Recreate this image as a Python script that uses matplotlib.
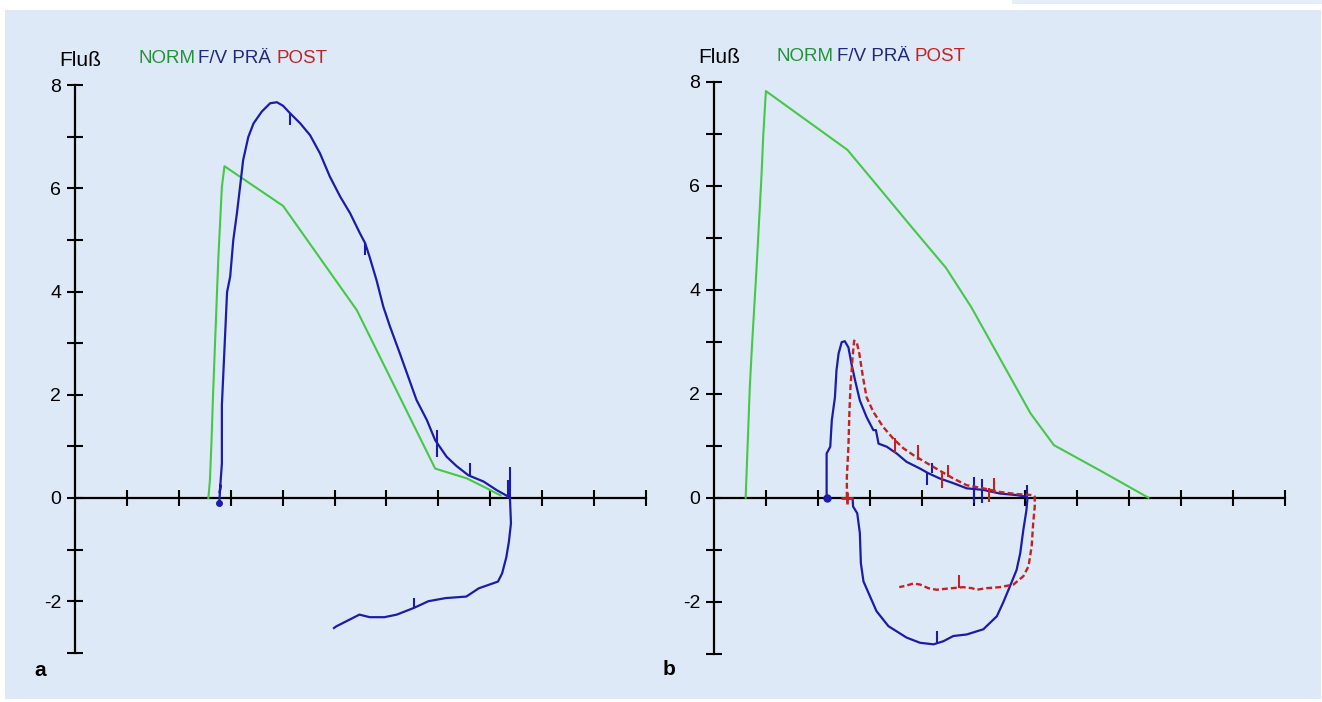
import matplotlib
matplotlib.use("Agg")
import matplotlib.pyplot as plt
from matplotlib.patches import Rectangle

# ---------------- data ----------------
# Panel a
norm_a_x = [2.57, 2.60, 2.63, 2.66, 2.76, 2.83, 2.88, 4.01, 5.43, 6.94, 7.55, 7.93, 8.20]
norm_a_y = [0.00, 0.35, 1.10, 2.00, 4.61, 6.03, 6.43, 5.66, 3.64, 0.57, 0.38, 0.19, 0.05]

pre_a_x = [2.78, 2.80, 2.79, 2.83, 2.83, 2.93, 2.99, 3.05, 3.12, 3.18, 3.24, 3.34, 3.44, 3.60,
           3.76, 3.89, 4.01, 4.14, 4.34, 4.53, 4.72, 4.91, 5.11, 5.30, 5.49, 5.59, 5.68, 5.81,
           5.94, 6.07, 6.26, 6.42, 6.58, 6.78, 6.94, 7.16, 7.35, 7.58, 7.87, 8.13, 8.29, 8.38,
           8.40, 8.36, 8.31, 8.23, 8.15, 7.78, 7.54, 7.14, 6.81, 6.53, 6.20, 5.96, 5.68,
           5.48, 5.03, 4.99]
pre_a_y = [-0.10, 0.25, 0.10, 0.67, 1.80, 3.99, 4.29, 5.00, 5.52, 6.03, 6.55, 7.00, 7.26, 7.49,
           7.65, 7.67, 7.60, 7.46, 7.26, 7.03, 6.68, 6.23, 5.84, 5.52, 5.13, 4.94, 4.66, 4.22,
           3.71, 3.32, 2.80, 2.35, 1.90, 1.51, 1.12, 0.80, 0.62, 0.44, 0.32, 0.15, 0.06, 0.01,
           -0.49, -0.85, -1.15, -1.46, -1.62, -1.75, -1.91, -1.94, -2.00, -2.13, -2.26, -2.31, -2.31,
           -2.26, -2.49, -2.52]
pre_a_mark_x = [4.14, 5.59, 6.97, 7.62, 8.34, 8.38, 6.53]
pre_a_mark_y0 = [7.46, 4.94, 0.80, 0.44, 0.00, 0.00, -2.13]
pre_a_mark_y1 = [7.23, 4.71, 1.32, 0.67, 0.35, 0.60, -1.93]

# Panel b
norm_b_x = [0.61, 0.69, 0.73, 0.82, 0.91, 0.95, 1.00, 2.57, 3.18, 3.82, 4.47, 4.96, 5.53,
            6.10, 6.55, 7.48, 8.37]
norm_b_y = [0.00, 2.13, 2.89, 4.42, 6.09, 6.98, 7.82, 6.69, 5.96, 5.19, 4.42, 3.66, 2.64,
            1.62, 1.01, 0.50, 0.00]

pre_b_x = [2.17, 2.17, 2.24, 2.27, 2.33, 2.36, 2.40, 2.46, 2.52, 2.59, 2.65, 2.72, 2.81, 2.94,
           3.07, 3.12, 3.17, 3.33, 3.52, 3.71, 3.97, 4.13, 4.35, 4.61, 4.87, 5.19, 5.51, 5.83,
           6.01, 6.04, 6.02, 5.96, 5.90, 5.83, 5.70, 5.57, 5.45, 5.19, 4.87, 4.61, 4.42, 4.23,
           3.97, 3.71, 3.36, 3.13, 2.88, 2.83, 2.81, 2.76, 2.68, 2.67]
pre_b_y = [0.00, 0.85, 0.98, 1.49, 1.93, 2.45, 2.77, 2.99, 3.01, 2.89, 2.57, 2.25, 1.87, 1.55,
           1.30, 1.30, 1.04, 0.98, 0.85, 0.69, 0.56, 0.47, 0.37, 0.28, 0.18, 0.15, 0.08, 0.05,
           0.02, -0.01, -0.24, -0.62, -1.07, -1.39, -1.71, -2.02, -2.28, -2.53, -2.63, -2.66, -2.76, -2.82,
           -2.79, -2.69, -2.47, -2.18, -1.61, -1.26, -0.68, -0.30, -0.17, -0.01]
pre_b_mark_x = [4.11, 4.21, 5.00, 5.16, 6.03, 4.30]
pre_b_mark_y0 = [0.24, 0.47, -0.10, -0.10, 0.00, -2.79]
pre_b_mark_y1 = [0.47, 0.66, 0.40, 0.35, 0.24, -2.57]

post_b_x = [2.56, 2.56, 2.59, 2.61, 2.63, 2.67, 2.70, 2.75, 2.80, 2.87, 2.94, 3.07, 3.26, 3.45,
            3.65, 3.84, 4.23, 4.61, 4.87, 5.19, 5.51, 5.83, 6.15, 6.18, 6.18, 6.15, 6.12, 6.06,
            5.96, 5.77, 5.51, 5.25, 5.06, 4.97, 4.80, 4.48, 4.29, 4.13, 3.97, 3.84, 3.71, 3.57]
post_b_y = [0.00, 0.40, 0.98, 1.68, 2.13, 2.70, 3.02, 2.99, 2.77, 2.32, 1.93, 1.65, 1.36, 1.14,
            0.95, 0.82, 0.59, 0.37, 0.24, 0.18, 0.11, 0.07, 0.05, 0.02, -0.17, -0.49, -0.94, -1.32,
            -1.51, -1.67, -1.72, -1.74, -1.77, -1.74, -1.72, -1.75, -1.77, -1.74, -1.67, -1.65, -1.69, -1.72]
post_b_mark_x = [3.49, 3.94, 4.39, 4.51, 5.29, 5.40, 4.72]
post_b_mark_y0 = [0.85, 0.72, 0.19, 0.40, -0.08, 0.09, -1.74]
post_b_mark_y1 = [1.14, 1.01, 0.47, 0.62, 0.19, 0.38, -1.48]

y_ticks = list(range(-3, 9))
y_tick_labels = [str(v) if v % 2 == 0 else "" for v in y_ticks]
x_ticks = list(range(1, 12))

legend_words = ["NORM", "F/V PRÄ", "POST"]

# ---------------- style ----------------
W, H = 1322, 702
BG = "#dde9f6"
GREEN = "#45c845"
GREEN_TXT = "#23923a"
BLUE = "#1c1caa"
BLUE_TXT = "#1e2a78"
RED = "#c42222"
FONT = "Liberation Sans"

fig = plt.figure(figsize=(W / 100, H / 100), dpi=100)
fig.patch.set_facecolor("white")
fig.patches.append(Rectangle((5 / W, 1 - 699 / H), 1316 / W, 689 / H,
                             transform=fig.transFigure, facecolor=BG, edgecolor="none", zorder=-10))
fig.patches.append(Rectangle((1012 / W, 1 - 4 / H), 310 / W, 4 / H,
                             transform=fig.transFigure, facecolor="#e6eefa", edgecolor="none", zorder=-10))

XL = (-1.3, 11.6)
YL = (-3.8, 8.6)


def make_axes(ox, oy, ux, uy):
    left = (ox + XL[0] * ux) / W
    width = (XL[1] - XL[0]) * ux / W
    bottom = (H - (oy - YL[0] * uy)) / H
    height = (YL[1] - YL[0]) * uy / H
    ax = fig.add_axes([left, bottom, width, height])
    ax.set_xlim(*XL)
    ax.set_ylim(*YL)
    ax.patch.set_alpha(0)
    for s in ("top", "right"):
        ax.spines[s].set_visible(False)
    ax.spines["left"].set_position(("data", 0))
    ax.spines["bottom"].set_position(("data", 0))
    ax.spines["left"].set_bounds(-3, 8)
    ax.spines["bottom"].set_bounds(0, 11)
    for s in ("left", "bottom"):
        ax.spines[s].set_linewidth(1.6)
        ax.spines[s].set_color("black")
        ax.spines[s].set_zorder(1)
    ax.set_yticks(y_ticks)
    ax.set_yticklabels(y_tick_labels, fontfamily=FONT, fontsize=14)
    ax.set_xticks(x_ticks)
    ax.set_xticklabels([])
    ax.tick_params(axis="y", direction="inout", length=12, width=1.5, pad=4)
    ax.tick_params(axis="x", direction="inout", length=11, width=1.5)
    return ax


def header(flu_x, flu_base, leg_x, leg_base):
    fig.text(flu_x / W, 1 - flu_base / H, "Fluß", fontfamily=FONT, fontsize=15,
             ha="left", va="baseline", color="black")
    colors = [GREEN_TXT, BLUE_TXT, RED]
    for word, x, c in zip(legend_words, leg_x, colors):
        fig.text(x / W, 1 - leg_base / H, word, fontfamily=FONT, fontsize=13.5,
                 ha="left", va="baseline", color=c)


# Panel a
axa = make_axes(75, 498, 51.9, 51.6)
axa.plot(norm_a_x, norm_a_y, color=GREEN, lw=1.5, zorder=3)
axa.plot(pre_a_x, pre_a_y, color=BLUE, lw=1.6, zorder=4)
axa.vlines(pre_a_mark_x, pre_a_mark_y0, pre_a_mark_y1, color=BLUE, lw=1.5, zorder=4)
axa.plot(pre_a_x[0], pre_a_y[0], marker="o", ms=4, color=BLUE, zorder=5)
header(59, 66, [139, 198, 276], 63)
fig.text(40 / W, 1 - 676 / H, "a", fontfamily=FONT, fontsize=15, fontweight="bold",
         ha="center", va="baseline")

# Panel b
axb = make_axes(714, 497.7, 51.9, 52.0)
axb.plot(norm_b_x, norm_b_y, color=GREEN, lw=1.5, zorder=3)
axb.plot(pre_b_x, pre_b_y, color=BLUE, lw=1.6, zorder=4)
axb.vlines(pre_b_mark_x, pre_b_mark_y0, pre_b_mark_y1, color=BLUE, lw=1.5, zorder=4)
axb.plot(post_b_x, post_b_y, color=RED, lw=1.7, linestyle=(0, (2.5, 1.3)), zorder=5)
axb.vlines(post_b_mark_x, post_b_mark_y0, post_b_mark_y1, color=RED, lw=1.5, zorder=5)
axb.plot(pre_b_x[0], pre_b_y[0], marker="o", ms=5, color=BLUE, zorder=6)
axb.plot(post_b_x[0], post_b_y[0], marker="+", ms=9, mew=2, color=RED, zorder=6)
header(698, 63, [777, 837, 915], 61)
fig.text(669 / W, 1 - 675 / H, "b", fontfamily=FONT, fontsize=15, fontweight="bold",
         ha="center", va="baseline")

fig.savefig("out.png", dpi=100, facecolor=fig.get_facecolor())
